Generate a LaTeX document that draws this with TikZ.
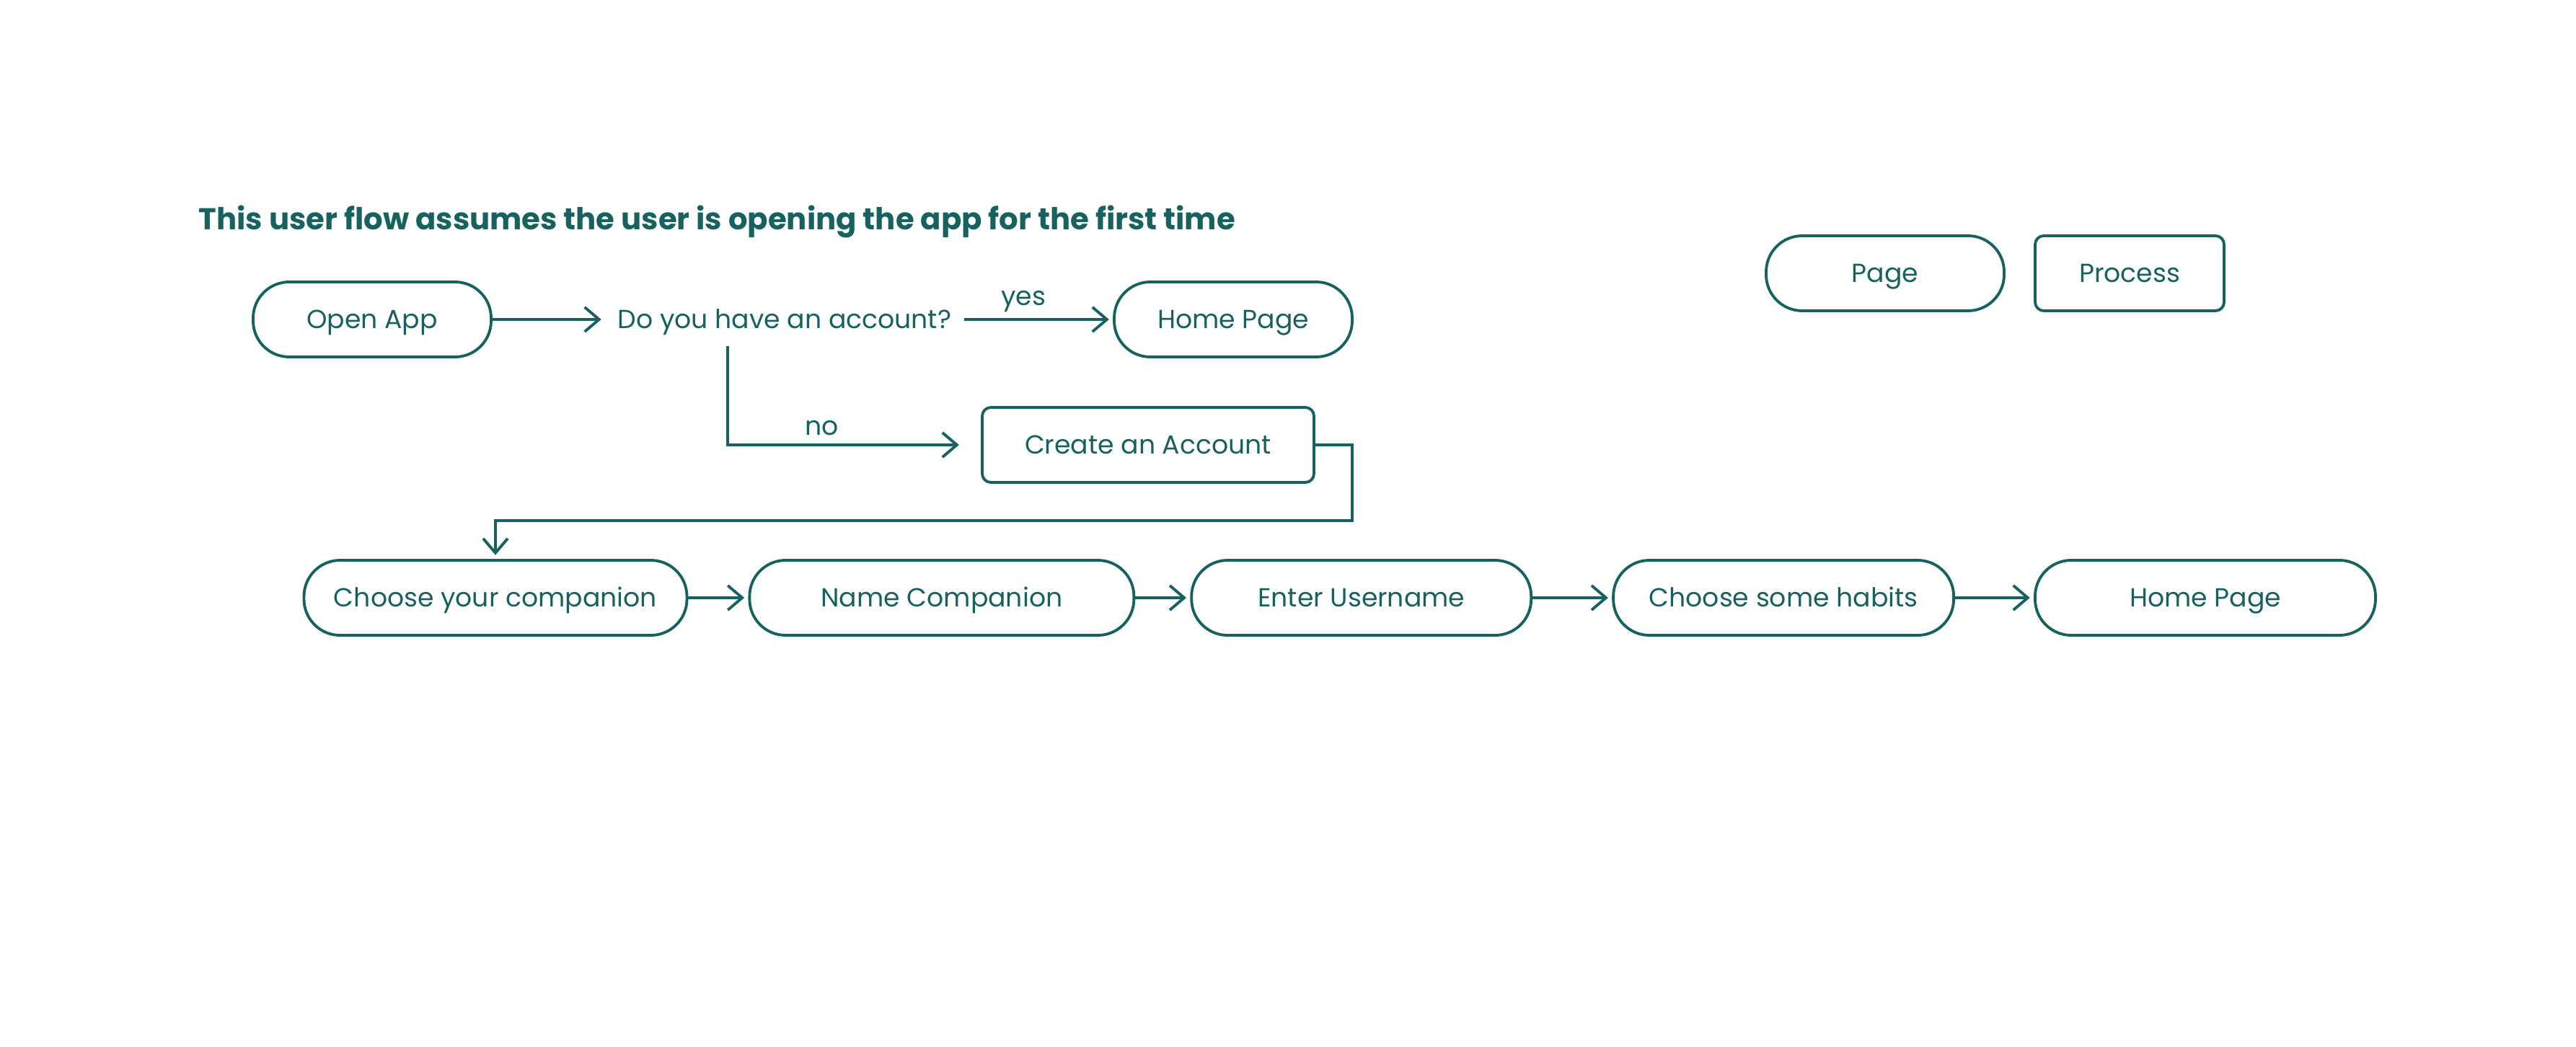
\documentclass[tikz,border=0pt]{standalone}
\usepackage{fontspec}
\setmainfont{Poppins}
\usepackage{xcolor}
\usepackage{tikz}
\usetikzlibrary{arrows.meta, positioning}
\definecolor{flowteal}{HTML}{17625F}

\begin{document}
\begin{tikzpicture}[node distance=0.85cm, line width=1.1pt, color=flowteal, text=flowteal,
    font=\fontsize{10.3}{12}\selectfont,
    page/.style={draw, rectangle, rounded corners=0.5cm, minimum height=1.04cm, inner sep=0pt,
        text height=0.9em, text depth=0.2em},
    process/.style={draw, rectangle, rounded corners=0.12cm, minimum height=1.04cm, inner sep=0pt,
        text height=0.9em, text depth=0.2em},
    flow/.style={-{Straight Barb[length=0.2cm, width=0.34cm]}, shorten >=1.5pt}]
    \useasboundingbox (0,0) rectangle (35.72,-14.52);

    \node[anchor=west, font=\fontsize{11.9}{14}\selectfont\bfseries] (title) at (2.62,-3.07) {This user flow assumes the user is opening the app for the first time};

    % top part
    \node[page, minimum width=3.30cm] (open) at (5.16,-4.43) {Open App};
    \node[inner sep=0.16cm, text height=0.9em, text depth=0.2em] (ask) at (10.88,-4.43) {Do you have an account?};
    \node[page, minimum width=3.30cm] (home1) at (17.10,-4.43) {Home Page};
    \node[process, minimum width=4.60cm] (create) at (15.92,-6.17) {Create an Account};
    \coordinate (turn) at (18.75,-7.22);

    % legend
    \node[page, minimum width=3.30cm] (legpage) at (26.14,-3.79) {Page};
    \node[process, minimum width=2.62cm] (legproc) at (29.53,-3.79) {Process};

    % bottom row
    \node[page, minimum width=5.31cm] (comp) at (6.87,-8.29) {Choose your companion};
    \node[page, minimum width=5.33cm, right=0.83cm of comp] (name) {Name Companion};
    \node[page, minimum width=4.71cm, right=0.76cm of name] (user) {Enter Username};
    \node[page, minimum width=4.72cm, right=1.10cm of user] (habits) {Choose some habits};
    \node[page, minimum width=4.72cm, right=1.09cm of habits] (home2) {Home Page};

    \draw[flow] (open) -- (ask);
    \draw[flow] (ask) -- node[pos=0.4, above=-1pt] {yes} (home1);
    \draw[flow] ([xshift=-0.79cm]ask.south) |- node[pos=0.70, above] {no} ([xshift=-0.25cm]create.west);
    \draw[flow] (create.east) -| (turn) -| (comp.north);
    \draw[flow] (comp) -- (name);
    \draw[flow] (name) -- (user);
    \draw[flow] (user) -- (habits);
    \draw[flow] (habits) -- (home2);
\end{tikzpicture}
\end{document}
